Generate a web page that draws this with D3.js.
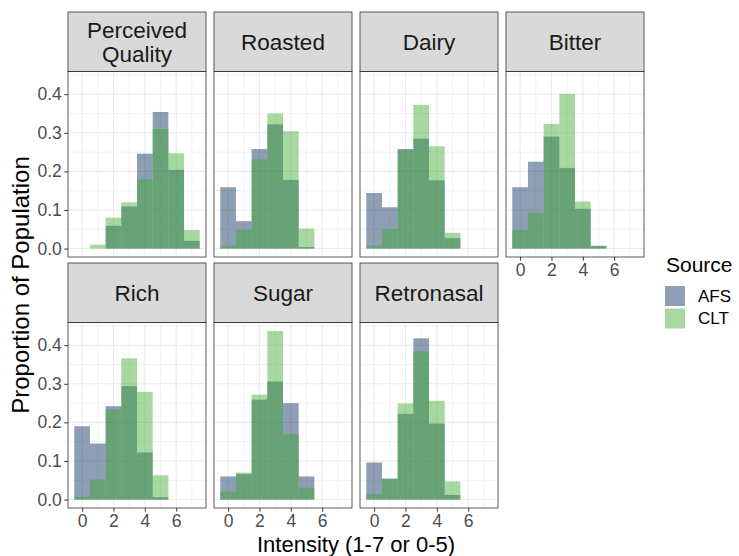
<!DOCTYPE html>
<html>
<head>
<meta charset="utf-8">
<script src="https://cdn.jsdelivr.net/npm/d3@7"></script>
<style>
  body { margin: 0; background: #fff; }
  svg { display: block; font-family: "Liberation Sans", Arial, sans-serif; }
</style>
</head>
<body>
<script>
// Data (proportion of population per intensity level)
const attributes = ["Perceived Quality", "Roasted", "Dairy", "Bitter", "Rich", "Sugar", "Retronasal"]
const sources = ["AFS", "CLT"]
const qualityLevels = [1, 2, 3, 4, 5, 6, 7]
const intensityLevels = [0, 1, 2, 3, 4, 5]

const afsQuality = [0.000, 0.059, 0.109, 0.246, 0.354, 0.204, 0.020]
const cltQuality = [0.010, 0.080, 0.120, 0.179, 0.310, 0.247, 0.048]
const afsRoasted = [0.159, 0.071, 0.258, 0.322, 0.178, 0.004]
const cltRoasted = [0.007, 0.048, 0.231, 0.350, 0.304, 0.052]
const afsDairy = [0.144, 0.107, 0.258, 0.285, 0.177, 0.027]
const cltDairy = [0.008, 0.050, 0.255, 0.372, 0.265, 0.041]
const afsBitter = [0.159, 0.225, 0.290, 0.209, 0.103, 0.007]
const cltBitter = [0.047, 0.093, 0.323, 0.401, 0.122, 0.007]
const afsRich = [0.190, 0.145, 0.242, 0.294, 0.122, 0.006]
const cltRich = [0.007, 0.052, 0.234, 0.366, 0.279, 0.063]
const afsSugar = [0.060, 0.066, 0.259, 0.306, 0.250, 0.060]
const cltSugar = [0.021, 0.070, 0.272, 0.437, 0.169, 0.030]
const afsRetronasal = [0.096, 0.054, 0.222, 0.418, 0.197, 0.012]
const cltRetronasal = [0.014, 0.054, 0.249, 0.384, 0.256, 0.047]

const xTicks = [0, 2, 4, 6]
const yTicks = [0, 0.1, 0.2, 0.3, 0.4]

// Build facets
const levels = [qualityLevels, intensityLevels, intensityLevels, intensityLevels, intensityLevels, intensityLevels, intensityLevels]
const afsValues = [afsQuality, afsRoasted, afsDairy, afsBitter, afsRich, afsSugar, afsRetronasal]
const cltValues = [cltQuality, cltRoasted, cltDairy, cltBitter, cltRich, cltSugar, cltRetronasal]
const facets = attributes.map((name, i) => ({
  name,
  bars: [afsValues[i], cltValues[i]].flatMap((vals, s) => vals.map((v, j) => ({ source: sources[s], level: levels[i][j], value: v })))
}))

// Create SVG
const width = 739, height = 556
const svg = d3.select("body").append("svg").attr("width", width).attr("height", height)
const panelW = 138, panelH = 185.5, stripH = 59.5
const colX = [68, 214, 360, 506]
const rowY = [12, 263]
const color = d3.scaleOrdinal().domain(sources).range(["#042a5a", "#39a82c"])
const alpha = 0.45

// Scales (ggplot-style 5% expansion)
const allLevels = levels.flat()
const xmin = d3.min(allLevels) - 0.5, xmax = d3.max(allLevels) + 0.5
const ymax = d3.max(facets.flatMap(f => f.bars), d => d.value)
const x = d3.scaleLinear().domain([xmin - (xmax - xmin) * 0.05, xmax + (xmax - xmin) * 0.05]).range([0, panelW])
const y = d3.scaleLinear().domain([-ymax * 0.05, ymax * 1.05]).range([panelH, 0])
const xMinor = d3.range(Math.ceil(x.domain()[0]), x.domain()[1], 1).filter(v => !xTicks.includes(v))
const yMinor = d3.range(0.05, y.domain()[1], 0.1)

// Render facets
facets.forEach((f, i) => {
  const row = Math.floor(i / 4), col = i % 4
  const g = svg.append("g").attr("transform", `translate(${colX[col]},${rowY[row]})`)

  // Strip
  g.append("rect").attr("width", panelW).attr("height", stripH)
    .attr("fill", "#d9d9d9").attr("stroke", "#333").attr("stroke-width", 0.8)
  const words = f.name.split(" ")
  g.append("text")
    .attr("text-anchor", "middle")
    .attr("font-size", "22.5px")
    .attr("fill", "#1a1a1a")
    .selectAll("tspan")
    .data(words)
    .join("tspan")
    .attr("x", panelW / 2)
    .attr("y", (_, k) => stripH / 2 + 8 + (k - (words.length - 1) / 2) * 23.5)
    .text(d => d)

  const p = g.append("g").attr("transform", `translate(0,${stripH})`)

  // Grid
  p.append("g").selectAll("line").data(xMinor).join("line")
    .attr("x1", d => x(d)).attr("x2", d => x(d)).attr("y1", 0).attr("y2", panelH)
    .attr("stroke", "#ebebeb").attr("stroke-width", 0.6)
  p.append("g").selectAll("line").data(yMinor).join("line")
    .attr("y1", d => y(d)).attr("y2", d => y(d)).attr("x1", 0).attr("x2", panelW)
    .attr("stroke", "#ebebeb").attr("stroke-width", 0.6)
  p.append("g").selectAll("line").data(xTicks).join("line")
    .attr("x1", d => x(d)).attr("x2", d => x(d)).attr("y1", 0).attr("y2", panelH)
    .attr("stroke", "#ebebeb").attr("stroke-width", 1.1)
  p.append("g").selectAll("line").data(yTicks).join("line")
    .attr("y1", d => y(d)).attr("y2", d => y(d)).attr("x1", 0).attr("x2", panelW)
    .attr("stroke", "#ebebeb").attr("stroke-width", 1.1)

  // Bars
  p.append("g").selectAll("rect").data(f.bars.filter(d => d.value > 0)).join("rect")
    .attr("x", d => x(d.level - 0.5))
    .attr("width", d => x(d.level + 0.5) - x(d.level - 0.5))
    .attr("y", d => y(d.value))
    .attr("height", d => y(0) - y(d.value))
    .attr("fill", d => color(d.source))
    .attr("fill-opacity", alpha)

  // Border
  p.append("rect").attr("width", panelW).attr("height", panelH)
    .attr("fill", "none").attr("stroke", "#333").attr("stroke-width", 0.8)

  // Axes
  if (col === 0) {
    const ax = p.append("g").call(d3.axisLeft(y).tickValues(yTicks).tickFormat(d3.format(".1f")).tickSize(3.7).tickPadding(2.5))
    ax.select(".domain").remove()
    ax.selectAll("line").attr("stroke", "#333")
    ax.selectAll("text").attr("fill", "#4d4d4d").attr("font-size", "17.5px").attr("font-family", null)
  }
  if (row === 1 || i === 3) {
    const ax = p.append("g").attr("transform", `translate(0,${panelH})`)
      .call(d3.axisBottom(x).tickValues(xTicks).tickSize(3.7).tickPadding(2.5))
    ax.select(".domain").remove()
    ax.selectAll("line").attr("stroke", "#333")
    ax.selectAll("text").attr("fill", "#4d4d4d").attr("font-size", "17.5px").attr("font-family", null)
  }
})

// Axis titles
svg.append("text")
  .attr("x", (colX[0] + colX[3] + panelW) / 2)
  .attr("y", 551.5)
  .attr("text-anchor", "middle")
  .attr("font-size", "22px")
  .text("Intensity (1-7 or 0-5)")
svg.append("text")
  .attr("transform", `translate(29,285) rotate(-90)`)
  .attr("text-anchor", "middle")
  .attr("font-size", "24px")
  .text("Proportion of Population")

// Set legend
const legend = svg.append("g").attr("transform", "translate(665,0)")
legend.append("text").attr("x", 1).attr("y", 272).attr("font-size", "21px").text("Source")
legend.selectAll("g.key")
  .data(sources)
  .join("g")
  .attr("class", "key")
  .each(function (d, i) {
    const k = d3.select(this)
    k.append("rect")
      .attr("x", 0).attr("y", 286 + i * 22.5)
      .attr("width", 20).attr("height", 20)
      .attr("fill", color(d)).attr("fill-opacity", alpha)
    k.append("text")
      .attr("x", 33).attr("y", 296 + i * 22.5)
      .attr("dominant-baseline", "central")
      .attr("font-size", "17px")
      .text(d)
  })
</script>
</body>
</html>
